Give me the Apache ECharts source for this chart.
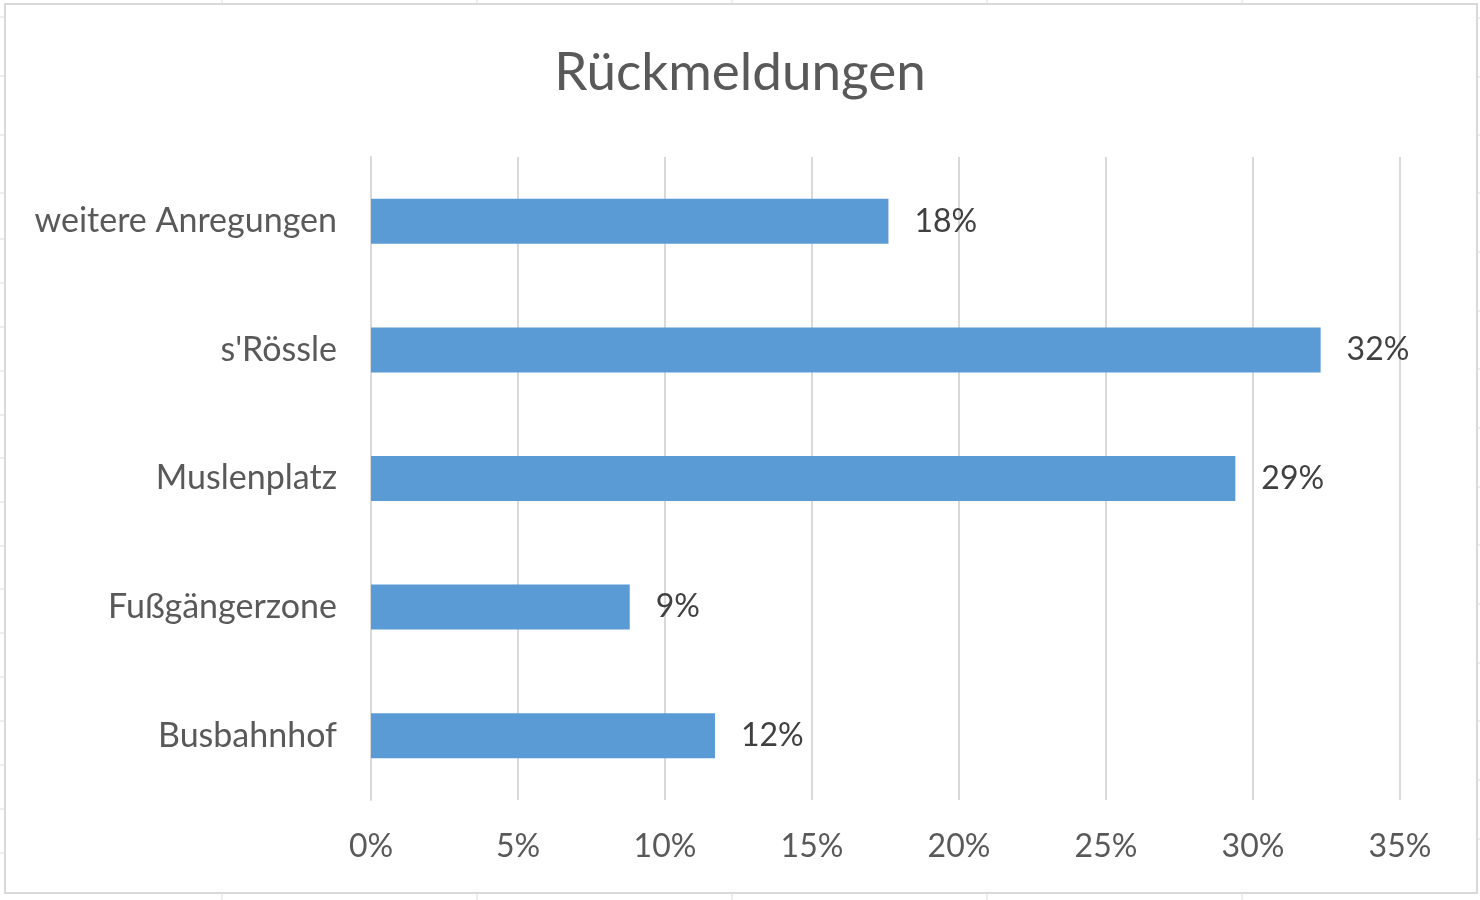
<!DOCTYPE html>
<html>
<head>
<meta charset="utf-8">
<script src="https://cdn.jsdelivr.net/npm/echarts@6/dist/echarts.min.js"></script>
<style>
html,body{margin:0;padding:0;background:#fff;}
#c{width:1480px;height:900px;}
</style>
</head>
<body>
<div id="c"></div>
<script>
const categories = ['Busbahnhof', 'Fußgängerzone', 'Muslenplatz', "s'Rössle", 'weitere Anregungen'];
const values = [0.117, 0.088, 0.294, 0.323, 0.176];
const titleText = 'Rückmeldungen';

// faint spreadsheet cell lines peeking around the chart frame (decoration)
const sheetColX = [222, 477, 732, 987, 1242];
const sheetRowLeftY = [17, 76, 135, 193, 239, 283, 327, 371, 415, 458, 502, 546, 589, 633, 677, 721, 765, 809, 853];
const sheetRowRightY = [18, 77, 135, 193, 252, 311, 369, 428, 487, 545, 604, 663, 721, 780, 839];

const chart = echarts.init(document.getElementById('c'), null, {renderer: 'canvas'});
const FONT = 'Lato';

const deco = [];
sheetColX.forEach(x => {
  deco.push({type: 'line', shape: {x1: x, y1: 0, x2: x, y2: 4}, style: {stroke: '#dcdcdc', lineWidth: 1}, silent: true});
  deco.push({type: 'line', shape: {x1: x, y1: 894, x2: x, y2: 900}, style: {stroke: '#dcdcdc', lineWidth: 1}, silent: true});
});
sheetRowLeftY.forEach(y => deco.push({type: 'line', shape: {x1: 0, y1: y, x2: 4, y2: y}, style: {stroke: '#dcdcdc', lineWidth: 1}, silent: true}));
sheetRowRightY.forEach(y => deco.push({type: 'line', shape: {x1: 1478, y1: y, x2: 1480, y2: y}, style: {stroke: '#dcdcdc', lineWidth: 1}, silent: true}));
deco.push({type: 'rect', shape: {x: 5, y: 4, width: 1472, height: 889}, style: {fill: 'none', stroke: '#d9d9d9', lineWidth: 2}, silent: true});

chart.setOption({
  backgroundColor: '#ffffff',
  animation: false,
  title: {
    text: titleText,
    left: 'center',
    top: 41,
    textStyle: {fontFamily: FONT, fontSize: 53, fontWeight: 'normal', color: '#595959'}
  },
  grid: {left: 371, right: 80, top: 157, bottom: 100, containLabel: false},
  xAxis: {
    type: 'value',
    min: 0, max: 0.35, interval: 0.05,
    axisLine: {show: false},
    axisTick: {show: false},
    splitLine: {show: true, lineStyle: {color: '#d9d9d9', width: 2}},
    axisLabel: {
      formatter: v => Math.round(v * 100) + '%',
      fontFamily: FONT, fontSize: 32, color: '#595959', margin: 31
    }
  },
  yAxis: {
    type: 'category',
    data: categories,
    axisLine: {show: true, lineStyle: {color: '#d9d9d9', width: 2}},
    axisTick: {show: false},
    axisLabel: {fontFamily: FONT, fontSize: 34, color: '#595959', margin: 34}
  },
  series: [{
    type: 'bar',
    data: values,
    barWidth: '35%',
    itemStyle: {color: '#5b9bd5'},
    label: {
      show: true, position: 'right', distance: 26,
      formatter: p => Math.round(p.value * 100) + '%',
      fontFamily: FONT, fontSize: 32, color: '#404040'
    }
  }],
  graphic: deco
});
</script>
</body>
</html>
